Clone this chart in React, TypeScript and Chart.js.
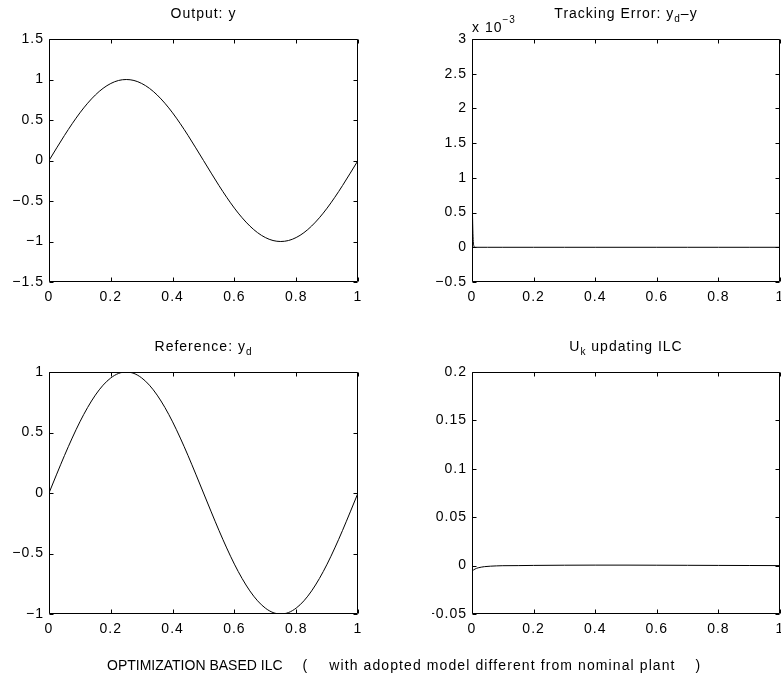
import React, { useEffect, useRef } from "react";
import { Chart, registerables } from "chart.js";

Chart.register(...registerables);

const FONT = "'Liberation Sans', Arial, Helvetica, sans-serif";
const FIG_W = 781;
const FIG_H = 681;
const FONT_SIZE = 14;
const LETTER_SPACING = "1px";

// Sampled trajectory (one period over the trial)
const sineTime = [
  0, 0.025, 0.05, 0.075, 0.1, 0.125, 0.15, 0.175, 0.2, 0.225, 0.25, 0.275, 0.3, 0.325,
  0.35, 0.375, 0.4, 0.425, 0.45, 0.475, 0.5, 0.525, 0.55, 0.575, 0.6, 0.625, 0.65, 0.675,
  0.7, 0.725, 0.75, 0.775, 0.8, 0.825, 0.85, 0.875, 0.9, 0.925, 0.95, 0.975, 1,
];
const outputY = [
  0, 0.156, 0.309, 0.454, 0.588, 0.707, 0.809, 0.891, 0.951, 0.988, 1, 0.988, 0.951, 0.891,
  0.809, 0.707, 0.588, 0.454, 0.309, 0.156, 0, -0.156, -0.309, -0.454, -0.588, -0.707, -0.809,
  -0.891, -0.951, -0.988, -1, -0.988, -0.951, -0.891, -0.809, -0.707, -0.588, -0.454, -0.309,
  -0.156, 0,
];
const referenceYd = [
  0, 0.156, 0.309, 0.454, 0.588, 0.707, 0.809, 0.891, 0.951, 0.988, 1, 0.988, 0.951, 0.891,
  0.809, 0.707, 0.588, 0.454, 0.309, 0.156, 0, -0.156, -0.309, -0.454, -0.588, -0.707, -0.809,
  -0.891, -0.951, -0.988, -1, -0.988, -0.951, -0.891, -0.809, -0.707, -0.588, -0.454, -0.309,
  -0.156, 0,
];

// Tracking error y_d - y
const errorTime = [0, 0.003, 0.006, 0.01, 0.05, 0.1, 0.2, 0.3, 0.4, 0.5, 0.6, 0.7, 0.8, 0.9, 1];
const trackingError = [0.0009, 0.0002, 0.00002, 0, 0, 0, 0, 0, 0, 0, 0, 0, 0, 0, 0];

// Input update U_k
const inputTime = [
  0, 0.005, 0.01, 0.015, 0.02, 0.03, 0.04, 0.06, 0.08, 0.1, 0.15, 0.2, 0.3, 0.4, 0.5, 0.6,
  0.7, 0.8, 0.9, 1,
];
const inputUk = [
  -0.006, -0.0045, -0.0035, -0.0028, -0.0023, -0.0016, -0.0011, -0.0006, -0.0003, -0.0001, 0,
  0.0002, 0.0004, 0.0005, 0.0005, 0.0004, 0.0003, 0.0002, 0.0001, 0,
];

// Axis ticks
const xTickValues = [0, 0.2, 0.4, 0.6, 0.8, 1];
const outputTicks = [-1.5, -1, -0.5, 0, 0.5, 1, 1.5];
const errorTicks = [-0.0005, 0, 0.0005, 0.001, 0.0015, 0.002, 0.0025, 0.003];
const referenceTicks = [-1, -0.5, 0, 0.5, 1];
const inputTicks = [-0.05, 0, 0.05, 0.1, 0.15, 0.2];

// Figure caption, in its parts
const CAPTION_HEAD = "OPTIMIZATION BASED ILC";
const CAPTION_BODY = "with adopted model different from nominal plant";

type Seg = { text: string; sub?: boolean };
type Area = { L: number; T: number; R: number; B: number };

const Y_AXIS_W = 40;
const X_AXIS_H = 30;
const TICK_LEN = 4;

function fmt(v: number, mult = 1): string {
  const r = Math.round(v * mult * 1e6) / 1e6;
  return String(r).replace("-", "\u2212");
}

// Box, inward ticks on all four sides, title with subscripts, exponent label
const framePlugin = {
  id: "matlabFrame",
  beforeDraw(chart: any) {
    chart.ctx.letterSpacing = LETTER_SPACING;
  },
  afterDraw(chart: any, _args: any, opts: any) {
    const { ctx, chartArea: a } = chart;
    const xs = chart.scales.x;
    const ys = chart.scales.y;
    const L = Math.round(a.left) + 0.5;
    const R = Math.round(a.right) - 0.5;
    const T = Math.round(a.top) + 0.5;
    const B = Math.round(a.bottom) - 0.5;
    ctx.save();
    ctx.letterSpacing = LETTER_SPACING;
    ctx.strokeStyle = "#000";
    ctx.lineWidth = 1;
    ctx.beginPath();
    ctx.rect(L, T, R - L, B - T);
    for (const t of xs.ticks) {
      const px = Math.round(xs.getPixelForValue(t.value)) + 0.5;
      ctx.moveTo(px, B);
      ctx.lineTo(px, B - TICK_LEN);
      ctx.moveTo(px, T);
      ctx.lineTo(px, T + TICK_LEN);
    }
    for (const t of ys.ticks) {
      const py = Math.round(ys.getPixelForValue(t.value)) + 0.5;
      ctx.moveTo(L, py);
      ctx.lineTo(L + TICK_LEN, py);
      ctx.moveTo(R, py);
      ctx.lineTo(R - TICK_LEN, py);
    }
    ctx.stroke();

    ctx.fillStyle = "#000";
    ctx.textBaseline = "alphabetic";
    ctx.textAlign = "left";
    const segs: Seg[] = opts.title || [];
    const mainFont = `${FONT_SIZE}px ${FONT}`;
    const subFont = `10px ${FONT}`;
    let total = 0;
    for (const s of segs) {
      ctx.font = s.sub ? subFont : mainFont;
      total += ctx.measureText(s.text).width;
    }
    let x = (a.left + a.right) / 2 - total / 2;
    const base = a.top - 21;
    for (const s of segs) {
      ctx.font = s.sub ? subFont : mainFont;
      ctx.fillText(s.text, x, s.sub ? base + 4 : base);
      x += ctx.measureText(s.text).width;
    }

    if (opts.exponent) {
      ctx.font = mainFont;
      const eb = a.top - 7;
      ctx.fillText("x 10", a.left, eb);
      const w = ctx.measureText("x 10").width;
      ctx.font = subFont;
      ctx.fillText(opts.exponent, a.left + w, a.top - 16);
    }
    ctx.restore();
  },
};

function makeConfig(
  area: Area,
  xs: number[],
  ys: number[],
  yTicks: number[],
  yMult: number,
  title: Seg[],
  exponent?: string
): any {
  return {
    type: "line",
    data: {
      datasets: [
        {
          data: xs.map((t, i) => ({ x: t, y: ys[i] })),
          borderColor: "#000",
          borderWidth: 1,
          pointRadius: 0,
          fill: false,
          cubicInterpolationMode: "monotone",
        },
      ],
    },
    options: {
      responsive: false,
      animation: false,
      devicePixelRatio: 1,
      layout: {
        padding: {
          left: area.L - Y_AXIS_W,
          top: area.T,
          right: FIG_W - area.R,
          bottom: FIG_H - area.B - X_AXIS_H,
        },
      },
      plugins: {
        legend: { display: false },
        tooltip: { enabled: false },
        title: { display: false },
        matlabFrame: { title, exponent },
      },
      scales: {
        x: {
          type: "linear",
          min: xTickValues[0],
          max: xTickValues[xTickValues.length - 1],
          afterBuildTicks: (s: any) => {
            s.ticks = xTickValues.map((v) => ({ value: v }));
          },
          afterFit: (s: any) => {
            s.height = X_AXIS_H;
            s.paddingLeft = 0;
            s.paddingRight = 0;
          },
          grid: { display: false, drawTicks: false },
          border: { display: false },
          ticks: {
            font: { family: FONT, size: FONT_SIZE },
            color: "#000",
            padding: 7,
            maxRotation: 0,
            autoSkip: false,
            callback: (v: number) => fmt(v),
          },
        },
        y: {
          type: "linear",
          min: yTicks[0],
          max: yTicks[yTicks.length - 1],
          afterBuildTicks: (s: any) => {
            s.ticks = yTicks.map((v) => ({ value: v }));
          },
          afterFit: (s: any) => {
            s.width = Y_AXIS_W;
            s.paddingTop = 0;
            s.paddingBottom = 0;
          },
          grid: { display: false, drawTicks: false },
          border: { display: false },
          ticks: {
            font: { family: FONT, size: FONT_SIZE },
            color: "#000",
            padding: 5,
            autoSkip: false,
            callback: (v: number) => fmt(v, yMult),
          },
        },
      },
    },
    plugins: [framePlugin],
  };
}

const AREAS: Area[] = [
  { L: 49, T: 39, R: 358, B: 282 },
  { L: 472, T: 39, R: 780, B: 282 },
  { L: 49, T: 372, R: 358, B: 614 },
  { L: 472, T: 372, R: 780, B: 614 },
];

export default function App() {
  const refs = [
    useRef<HTMLCanvasElement>(null),
    useRef<HTMLCanvasElement>(null),
    useRef<HTMLCanvasElement>(null),
    useRef<HTMLCanvasElement>(null),
  ];

  useEffect(() => {
    const configs = [
      makeConfig(AREAS[0], sineTime, outputY, outputTicks, 1, [{ text: "Output: y" }]),
      makeConfig(
        AREAS[1],
        errorTime,
        trackingError,
        errorTicks,
        1000,
        [{ text: "Tracking Error: y" }, { text: "d", sub: true }, { text: "\u2013y" }],
        "\u22123"
      ),
      makeConfig(AREAS[2], sineTime, referenceYd, referenceTicks, 1, [
        { text: "Reference: y" },
        { text: "d", sub: true },
      ]),
      makeConfig(AREAS[3], inputTime, inputUk, inputTicks, 1, [
        { text: "U" },
        { text: "k", sub: true },
        { text: " updating ILC" },
      ]),
    ];
    const charts = refs.map((r, i) => new Chart(r.current as HTMLCanvasElement, configs[i]));
    return () => charts.forEach((c) => c.destroy());
  }, []);

  const captionFont = `${FONT_SIZE}px ${FONT}`;

  return (
    <div
      style={{
        position: "fixed",
        left: 0,
        top: 0,
        width: FIG_W,
        height: FIG_H,
        background: "#fff",
        overflow: "hidden",
      }}
    >
      {refs.map((r, i) => (
        <canvas
          key={i}
          ref={r}
          width={FIG_W}
          height={FIG_H}
          style={{ position: "absolute", left: 0, top: 0 }}
        />
      ))}
      <div
        style={{
          position: "absolute",
          left: 107,
          top: 657,
          font: captionFont,
          lineHeight: "16px",
          whiteSpace: "pre",
          color: "#000",
        }}
      >
        <span>{CAPTION_HEAD}</span>
        <span style={{ marginLeft: 20 }}>(</span>
        <span style={{ marginLeft: 22, letterSpacing: "1.1px" }}>{CAPTION_BODY}</span>
        <span style={{ marginLeft: 20 }}>)</span>
      </div>
    </div>
  );
}
